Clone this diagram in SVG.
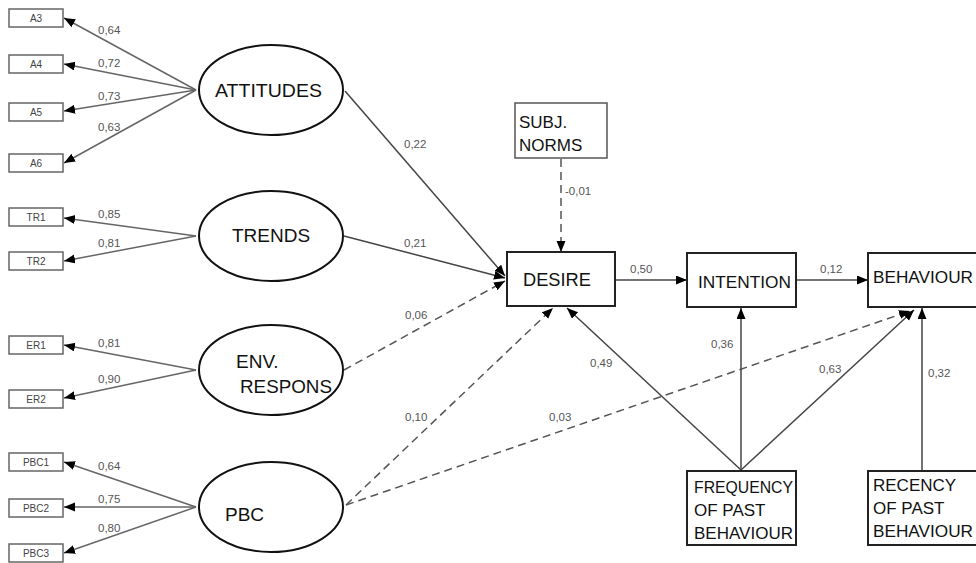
<svg xmlns="http://www.w3.org/2000/svg" width="976" height="563" viewBox="0 0 976 563">
<defs>
<marker id="ah" markerUnits="userSpaceOnUse" markerWidth="12" markerHeight="10" refX="11" refY="4.5" orient="auto">
<path d="M0,0 L11,4.5 L0,9 z" fill="#000"/>
</marker>
<style>
.ind{fill:#fff;stroke:#666;stroke-width:1.5}
.indt{font-family:"Liberation Sans",Arial,sans-serif;font-size:10px;fill:#444;text-anchor:middle}
.lat{fill:#fff;stroke:#111;stroke-width:2}
.box{fill:#fff;stroke:#222;stroke-width:2}
.nt{font-family:"Liberation Sans",Arial,sans-serif;font-size:19px;fill:#111}
.bt{font-family:"Liberation Sans",Arial,sans-serif;font-size:17px;fill:#111}
.lb{font-family:"Liberation Sans",Arial,sans-serif;font-size:11.5px;fill:#555}
.ln{fill:none;stroke:#666;stroke-width:1.5;marker-end:url(#ah)}
.sl{fill:none;stroke:#444;stroke-width:1.5;marker-end:url(#ah)}
.dl{fill:none;stroke:#555;stroke-width:1.5;stroke-dasharray:8,5;marker-end:url(#ah)}
</style>
</defs>
<rect width="976" height="563" fill="#fff"/>

<g id="connectors">
<line class="ln" x1="196" y1="90" x2="64" y2="18"/>
<line class="ln" x1="196" y1="90" x2="64" y2="64"/>
<line class="ln" x1="196" y1="90" x2="64" y2="111"/>
<line class="ln" x1="196" y1="90" x2="64" y2="163"/>
<line class="ln" x1="196" y1="236" x2="64" y2="218"/>
<line class="ln" x1="196" y1="236" x2="64" y2="261"/>
<line class="ln" x1="196" y1="370" x2="64" y2="345"/>
<line class="ln" x1="196" y1="370" x2="64" y2="398"/>
<line class="ln" x1="196" y1="507" x2="64" y2="462"/>
<line class="ln" x1="196" y1="507" x2="64" y2="507"/>
<line class="ln" x1="196" y1="507" x2="64" y2="553"/>
<line class="sl" x1="345" y1="91" x2="505" y2="276"/>
<line class="sl" x1="344" y1="236" x2="505" y2="278"/>
<line class="dl" x1="344" y1="370" x2="505" y2="281"/>
<line class="dl" x1="346" y1="505" x2="553" y2="308"/>
<line class="dl" x1="346" y1="505" x2="910" y2="311"/>
<line class="dl" x1="561" y1="159" x2="561" y2="252"/>
<line class="sl" x1="616" y1="280" x2="687" y2="280"/>
<line class="sl" x1="797" y1="280" x2="868" y2="280"/>
<line class="sl" x1="741" y1="470" x2="567" y2="308"/>
<line class="sl" x1="741" y1="470" x2="741" y2="308"/>
<line class="sl" x1="741" y1="470" x2="914" y2="310"/>
<line class="sl" x1="922" y1="471" x2="922" y2="308"/>
<text class="lb" x="98" y="34">0,64</text>
<text class="lb" x="98" y="67">0,72</text>
<text class="lb" x="98" y="100">0,73</text>
<text class="lb" x="98" y="131">0,63</text>
<text class="lb" x="98" y="218">0,85</text>
<text class="lb" x="98" y="247">0,81</text>
<text class="lb" x="98" y="347">0,81</text>
<text class="lb" x="98" y="383">0,90</text>
<text class="lb" x="98" y="470">0,64</text>
<text class="lb" x="98" y="503">0,75</text>
<text class="lb" x="98" y="532">0,80</text>
<text class="lb" x="404" y="148">0,22</text>
<text class="lb" x="404" y="247">0,21</text>
<text class="lb" x="405" y="319">0,06</text>
<text class="lb" x="405" y="421">0,10</text>
<text class="lb" x="549" y="421">0,03</text>
<text class="lb" x="565" y="195">-0,01</text>
<text class="lb" x="630" y="273">0,50</text>
<text class="lb" x="820" y="273">0,12</text>
<text class="lb" x="590" y="367">0,49</text>
<text class="lb" x="711" y="348">0,36</text>
<text class="lb" x="819" y="373">0,63</text>
<text class="lb" x="928" y="377">0,32</text>
</g>

<g id="A3"><rect class="ind" x="9" y="9" width="54" height="18"/><text class="indt" x="36" y="22">A3</text></g>
<g id="A4"><rect class="ind" x="9" y="55" width="54" height="18"/><text class="indt" x="36" y="68">A4</text></g>
<g id="A5"><rect class="ind" x="9" y="103" width="54" height="18"/><text class="indt" x="36" y="116">A5</text></g>
<g id="A6"><rect class="ind" x="9" y="154" width="54" height="18"/><text class="indt" x="36" y="167">A6</text></g>
<g id="TR1"><rect class="ind" x="9" y="208" width="54" height="18"/><text class="indt" x="36" y="221">TR1</text></g>
<g id="TR2"><rect class="ind" x="9" y="252" width="54" height="18"/><text class="indt" x="36" y="265">TR2</text></g>
<g id="ER1"><rect class="ind" x="9" y="336" width="54" height="18"/><text class="indt" x="36" y="349">ER1</text></g>
<g id="ER2"><rect class="ind" x="9" y="390" width="54" height="18"/><text class="indt" x="36" y="403">ER2</text></g>
<g id="PBC1"><rect class="ind" x="9" y="453" width="54" height="18"/><text class="indt" x="36" y="466">PBC1</text></g>
<g id="PBC2"><rect class="ind" x="9" y="499" width="54" height="18"/><text class="indt" x="36" y="512">PBC2</text></g>
<g id="PBC3"><rect class="ind" x="9" y="544" width="54" height="18"/><text class="indt" x="36" y="557">PBC3</text></g>

<g id="attitudes"><ellipse class="lat" cx="271" cy="90" rx="72" ry="45"/><text class="nt" x="215" y="97" textLength="107" lengthAdjust="spacingAndGlyphs">ATTITUDES</text></g>
<g id="trends"><ellipse class="lat" cx="271" cy="236" rx="72" ry="45"/><text class="nt" x="232" y="242">TRENDS</text></g>
<g id="envrespons"><ellipse class="lat" cx="271" cy="370" rx="72" ry="45"/><text class="nt" x="236" y="368">ENV.</text><text class="nt" x="240" y="393" textLength="92" lengthAdjust="spacingAndGlyphs">RESPONS</text></g>
<g id="pbc"><ellipse class="lat" cx="271" cy="507" rx="72" ry="45"/><text class="nt" x="225" y="521">PBC</text></g>

<g id="subjnorms"><rect class="box" x="515" y="103" width="92" height="55" style="stroke:#555;stroke-width:1.5"/><text class="bt" x="519" y="128">SUBJ.</text><text class="bt" x="519" y="151">NORMS</text></g>
<g id="desire"><rect class="box" x="507" y="252" width="108" height="54"/><text class="nt" x="523" y="286" textLength="68" lengthAdjust="spacingAndGlyphs">DESIRE</text></g>
<g id="intention"><rect class="box" x="687" y="253" width="109" height="54"/><text class="bt" x="698" y="288" textLength="93" lengthAdjust="spacingAndGlyphs">INTENTION</text></g>
<g id="behaviour"><rect class="box" x="868" y="253" width="110" height="54"/><text class="bt" x="873" y="283" textLength="100" lengthAdjust="spacingAndGlyphs">BEHAVIOUR</text></g>
<g id="frequency"><rect class="box" x="687" y="471" width="109" height="74"/><text class="bt" x="694" y="493" textLength="99" lengthAdjust="spacingAndGlyphs">FREQUENCY</text><text class="bt" x="694" y="516">OF PAST</text><text class="bt" x="694" y="539" textLength="99" lengthAdjust="spacingAndGlyphs">BEHAVIOUR</text></g>
<g id="recency"><rect class="box" x="868" y="471" width="110" height="74"/><text class="bt" x="873" y="491">RECENCY</text><text class="bt" x="873" y="514">OF PAST</text><text class="bt" x="873" y="537" textLength="100" lengthAdjust="spacingAndGlyphs">BEHAVIOUR</text></g>
</svg>
